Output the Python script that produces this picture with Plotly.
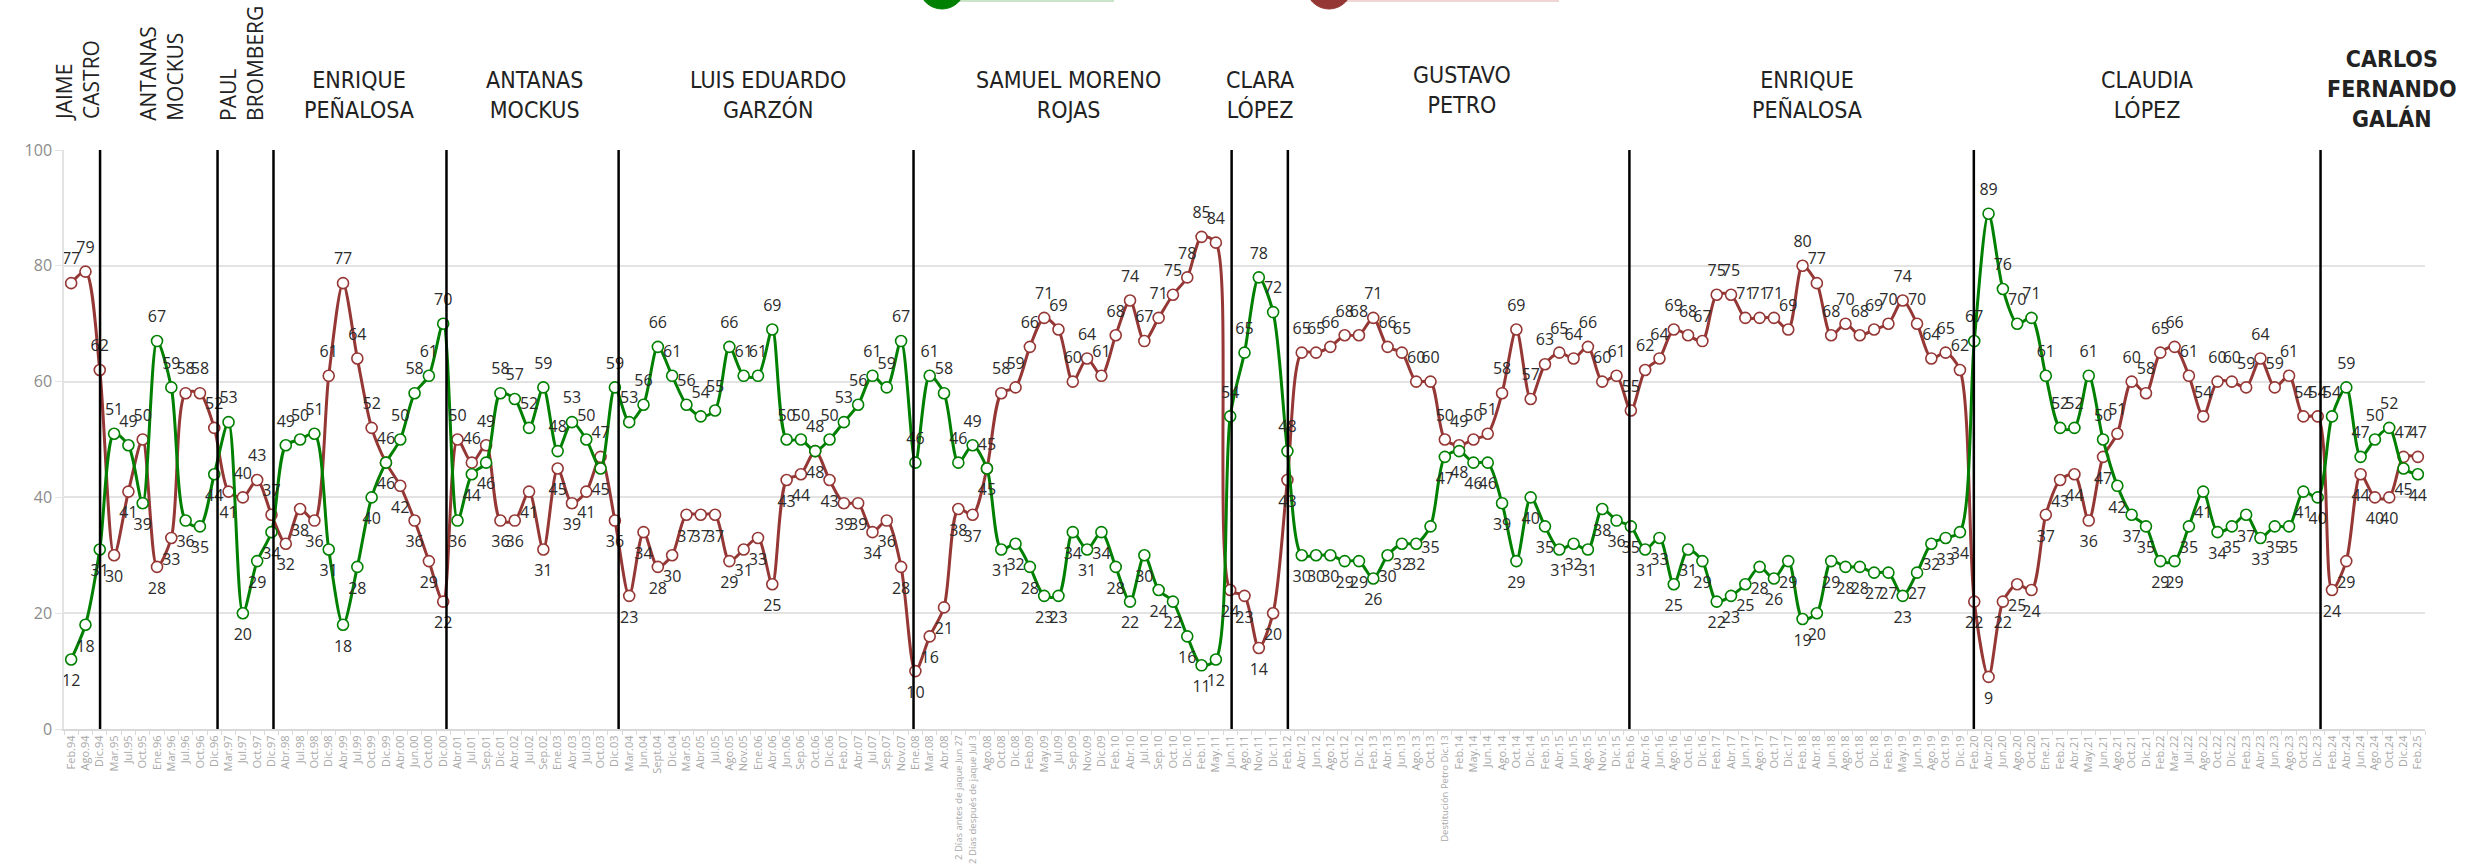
import plotly.graph_objects as go

# ---------------- DATA ----------------
periods = [
    "Feb.94", "Ago.94", "Dic.94", "Mar.95", "Jul.95", "Oct.95", "Ene.96", "Mar.96", "Jul.96", "Oct.96",
    "Dic.96", "Mar.97", "Jul.97", "Oct.97", "Dic.97", "Abr.98", "Jul.98", "Oct.98", "Dic.98", "Abr.99",
    "Jul.99", "Oct.99", "Dic.99", "Abr.00", "Jun.00", "Oct.00", "Dic.00", "Abr.01", "Jul.01", "Sep.01",
    "Dic.01", "Abr.02", "Jul.02", "Sep.02", "Ene.03", "Abr.03", "Jul.03", "Oct.03", "Dic.03", "Mar.04",
    "Jun.04", "Sept.04", "Dic.04", "Mar.05", "Abr.05", "Jul.05", "Ago.05", "Nov.05", "Ene.06", "Abr.06",
    "Jun.06", "Sep.06", "Oct.06", "Dic.06", "Feb.07", "Abr.07", "Jul.07", "Sep.07", "Nov.07", "Ene.08",
    "Mar.08", "Abr.08", "2 Días antes de jaque Jun 27", "2 Días después de jaque Jul 3", "Ago.08",
    "Oct.08", "Dic.08", "Feb.09", "May.09", "Jul.09", "Sep.09", "Nov.09", "Dic.09", "Feb.10", "Abr.10",
    "Jul.10", "Sep.10", "Oct.10", "Dic.10", "Feb.11", "May.11", "Jun.11", "Ago.11", "Nov.11", "Dic.11",
    "Feb.12", "Abr.12", "Jun.12", "Ago.12", "Oct.12", "Dic.12", "Feb.13", "Abr.13", "Jun.13", "Ago.13",
    "Oct.13", "Destitución Petro Dic.13", "Feb.14", "May.14", "Jun.14", "Ago.14", "Oct.14", "Dic.14",
    "Feb.15", "Abr.15", "Jun.15", "Ago.15", "Nov.15", "Dic.15", "Feb.16", "Abr.16", "Jun.16", "Ago.16",
    "Oct.16", "Dic.16", "Feb.17", "Abr.17", "Jun.17", "Ago.17", "Oct.17", "Dic.17", "Feb.18", "Abr.18",
    "Jun.18", "Ago.18", "Oct.18", "Dic.18", "Feb.19", "May.19", "Jun.19", "Ago.19", "Oct.19", "Dic.19",
    "Feb.20", "Abr.20", "Jun.20", "Ago.20", "Oct.20", "Ene.21", "Feb.21", "Abr.21", "May.21", "Jun.21",
    "Ago.21", "Oct.21", "Dic.21", "Feb.22", "Mar.22", "Jul.22", "Ago.22", "Oct.22", "Dic.22", "Feb.23",
    "Abr.23", "Jun.23", "Ago.23", "Oct.23", "Dic.23", "Feb.24", "Abr.24", "Jun.24", "Ago.24", "Oct.24",
    "Dic.24", "Feb.25",
]

aprueba = [
    12, 18, 31, 51, 49, 39, 67, 59, 36, 35,
    44, 53, 20, 29, 34, 49, 50, 51, 31, 18,
    28, 40, 46, 50, 58, 61, 70, 36, 44, 46,
    58, 57, 52, 59, 48, 53, 50, 45, 59, 53,
    56, 66, 61, 56, 54, 55, 66, 61, 61, 69,
    50, 50, 48, 50, 53, 56, 61, 59, 67, 46,
    61, 58, 46, 49, 45, 31, 32, 28, 23, 23,
    34, 31, 34, 28, 22, 30, 24, 22, 16, 11,
    12, 54, 65, 78, 72, 48, 30, 30, 30, 29,
    29, 26, 30, 32, 32, 35, 47, 48, 46, 46,
    39, 29, 40, 35, 31, 32, 31, 38, 36, 35,
    31, 33, 25, 31, 29, 22, 23, 25, 28, 26,
    29, 19, 20, 29, 28, 28, 27, 27, 23, 27,
    32, 33, 34, 67, 89, 76, 70, 71, 61, 52,
    52, 61, 50, 42, 37, 35, 29, 29, 35, 41,
    34, 35, 37, 33, 35, 35, 41, 40, 54, 59,
    47, 50, 52, 45, 44,
]

desaprueba = [
    77, 79, 62, 30, 41, 50, 28, 33, 58, 58,
    52, 41, 40, 43, 37, 32, 38, 36, 61, 77,
    64, 52, 46, 42, 36, 29, 22, 50, 46, 49,
    36, 36, 41, 31, 45, 39, 41, 47, 36, 23,
    34, 28, 30, 37, 37, 37, 29, 31, 33, 25,
    43, 44, 48, 43, 39, 39, 34, 36, 28, 10,
    16, 21, 38, 37, 45, 58, 59, 66, 71, 69,
    60, 64, 61, 68, 74, 67, 71, 75, 78, 85,
    84, 24, 23, 14, 20, 43, 65, 65, 66, 68,
    68, 71, 66, 65, 60, 60, 50, 49, 50, 51,
    58, 69, 57, 63, 65, 64, 66, 60, 61, 55,
    62, 64, 69, 68, 67, 75, 75, 71, 71, 71,
    69, 80, 77, 68, 70, 68, 69, 70, 74, 70,
    64, 65, 62, 22, 9, 22, 25, 24, 37, 43,
    44, 36, 47, 51, 60, 58, 65, 66, 61, 54,
    60, 60, 59, 64, 59, 61, 54, 54, 24, 29,
    44, 40, 40, 47, 47,
]

series_names = ["Aprueba", "Desaprueba"]

# change of mayor (position on the category axis)
term_breaks = [2.02, 10.23, 14.14, 26.23, 38.26, 58.87, 81.1, 85.03, 108.9, 132.97, 157.2]

mayors_vertical = ["JAIME<br>CASTRO", "ANTANAS<br>MOCKUS", "PAUL<br>BROMBERG"]
mayors_horizontal = ["ENRIQUE<br>PEÑALOSA", "ANTANAS<br>MOCKUS", "LUIS EDUARDO<br>GARZÓN",
                     "SAMUEL MORENO<br>ROJAS", "CLARA<br>LÓPEZ", "GUSTAVO<br>PETRO",
                     "ENRIQUE<br>PEÑALOSA", "CLAUDIA<br>LÓPEZ"]
mayor_last = "<b>CARLOS<br>FERNANDO<br>GALÁN</b>"

# ---------------- LAYOUT GEOMETRY ----------------
W, H = 2476, 865
ML, MR, MT, MB = 64, 51, 150, 136
PW, PH = W - ML - MR, H - MT - MB

def px_x(p):
    return (p - ML) / PW

def px_y(p):
    return (H - MB - p) / PH

GREEN = "#008000"
RED = "#953735"

n = len(periods)
pos_a, pos_d = [], []
for a, d in zip(aprueba, desaprueba):
    if a > d:
        pos_a.append("top center"); pos_d.append("bottom center")
    else:
        pos_a.append("bottom center"); pos_d.append("top center")

# long category names get a smaller font so they fit under the axis
tick_text = [p if len(p) <= 8 else '<span style="font-size:9.5px">%s</span>' % p for p in periods]

fig = go.Figure()
for name, vals, col in [(series_names[1], desaprueba, RED), (series_names[0], aprueba, GREEN)]:
    fig.add_trace(go.Scatter(
        x=periods, y=vals, name=name, mode="lines+markers",
        line=dict(color=col, width=3, shape="spline", smoothing=0.8),
        marker=dict(size=11, color="white", line=dict(color=col, width=1.6)),
        cliponaxis=False, showlegend=False, hoverinfo="x+y+name",
    ))

# data labels (placed a little away from the markers, as in the original)
for name, vals, tpos in [(series_names[1], desaprueba, pos_d), (series_names[0], aprueba, pos_a)]:
    fig.add_trace(go.Scatter(
        x=periods, y=vals, name=name, mode="markers+text",
        text=[str(v) for v in vals], textposition=tpos,
        textfont=dict(family="Open Sans, sans-serif", size=16, color="#2b2b2b"),
        marker=dict(size=22, color="rgba(0,0,0,0)"),
        cliponaxis=False, showlegend=False, hoverinfo="skip",
    ))

shapes = []
for xb in term_breaks:
    shapes.append(dict(type="line", xref="x", yref="y", x0=xb, x1=xb, y0=0, y1=100,
                       line=dict(color="black", width=2.5), layer="above"))

# partially visible legend at the top edge
for cx, xend, col, light in [(942, 1114, GREEN, "#c9e4c9"), (1329, 1559, RED, "#f0d5d5")]:
    shapes.append(dict(type="line", xref="paper", yref="paper",
                       x0=px_x(cx), x1=px_x(xend), y0=px_y(0.5), y1=px_y(0.5),
                       line=dict(color=light, width=3)))
    shapes.append(dict(type="circle", xref="paper", yref="paper",
                       x0=px_x(cx - 23), x1=px_x(cx + 23), y0=px_y(-37), y1=px_y(9),
                       fillcolor=col, line=dict(color=col, width=1)))

annotations = []
vert_x = [0.44, 6.3, 11.9]
for txt, xv in zip(mayors_vertical, vert_x):
    annotations.append(dict(x=xv, y=px_y(123), xref="x", yref="paper", text=txt,
                            textangle=-90, showarrow=False, align="left",
                            xanchor="center", yanchor="bottom",
                            font=dict(family="Open Sans, sans-serif", size=21, color="#222222")))

hor_x = [20.1, 32.4, 48.7, 69.7, 83.1, 97.2, 121.3, 145.1]
hor_y = [95, 95, 95, 95, 95, 90, 95, 95]
cond = "Liberation Sans Narrow, DejaVu Sans Condensed, Roboto Condensed, Arial Narrow, sans-serif"
for txt, xv, yv in zip(mayors_horizontal, hor_x, hor_y):
    annotations.append(dict(x=xv, y=px_y(yv), xref="x", yref="paper", text=txt,
                            showarrow=False, align="center", xanchor="center", yanchor="middle",
                            font=dict(family=cond, size=23, color="#222222")))
annotations.append(dict(x=162.2, y=px_y(89), xref="x", yref="paper", text=mayor_last,
                        showarrow=False, align="center", xanchor="center", yanchor="middle",
                        font=dict(family=cond, size=23, color="#222222")))

fig.update_layout(
    width=W, height=H,
    margin=dict(l=ML, r=MR, t=MT, b=MB, pad=0),
    paper_bgcolor="white", plot_bgcolor="white",
    shapes=shapes, annotations=annotations,
    xaxis=dict(type="category", categoryorder="array", categoryarray=periods,
               tickmode="array", tickvals=periods, ticktext=tick_text,
               range=[-0.5, n - 0.5], tickangle=-90, tickson="boundaries",
               ticks="outside", ticklen=4, tickcolor="#d9d9d9", tickwidth=1,
               showline=True, linecolor="#d9d9d9", linewidth=2, showgrid=False,
               tickfont=dict(family="Open Sans, sans-serif", size=11, color="#a8a8a8"),
               automargin=False, zeroline=False),
    yaxis=dict(range=[0, 100], dtick=20, showgrid=True, gridcolor="#e3e3e3", gridwidth=1.5,
               showline=True, linecolor="#e3e3e3", linewidth=1.5,
               ticks="outside", ticklen=7, tickcolor="#e3e3e3",
               tickfont=dict(family="Open Sans, sans-serif", size=16, color="#8c8c8c"),
               automargin=False, zeroline=False),
    showlegend=False,
)

fig.write_html("out.html", config={"displayModeBar": False},
               post_script="document.body.style.margin='0';document.body.style.overflow='hidden';")
